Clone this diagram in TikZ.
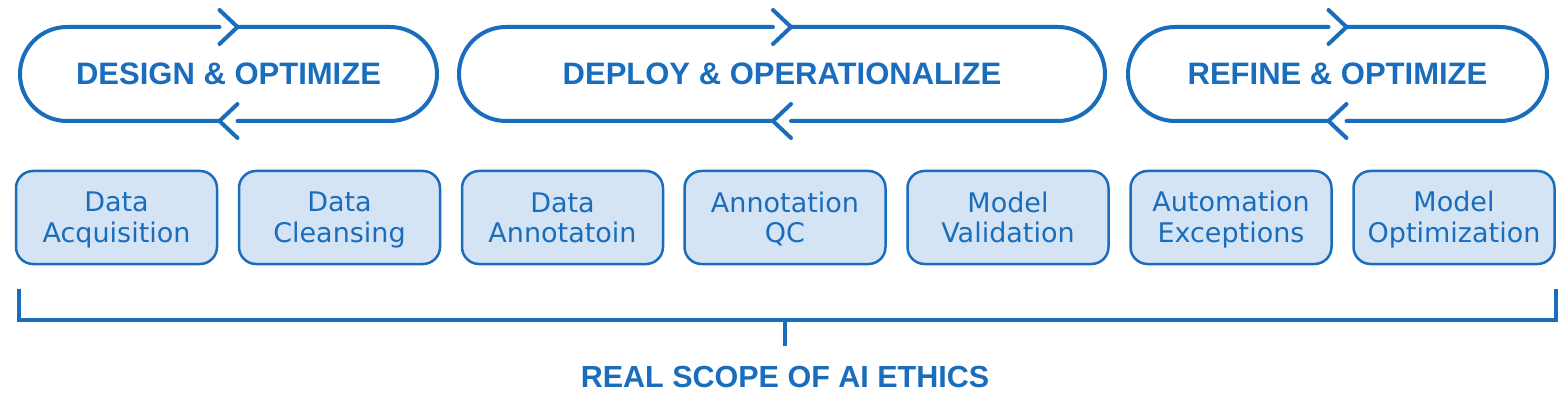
\documentclass[tikz,border=0pt]{standalone}
\usepackage{fontspec}
\setmainfont{DejaVu Sans}
\newfontfamily\headfont{Liberation Sans}
\definecolor{ethicblue}{HTML}{1A6DBD}
\definecolor{stagefill}{HTML}{D4E4F4}
\newcommand\lnstrut{\rule[-5pt]{0pt}{30pt}}
\begin{document}
\begin{tikzpicture}[x=1pt,y=1pt,
  phase/.style={minimum width=#1,minimum height=94pt,inner sep=0pt,outer sep=0pt,
    text=ethicblue,font=\headfont\bfseries\fontsize{31}{36}\selectfont},
  loopline/.style={draw=ethicblue,line width=4pt,line cap=round,line join=round},
  stage/.style={draw=ethicblue,fill=stagefill,line width=2.5pt,rounded corners=17pt,
    minimum width=201pt,minimum height=93pt,inner sep=0pt,align=center,
    text=ethicblue,font=\fontsize{27}{30.5}\selectfont},
  scopeline/.style={draw=ethicblue,line width=4pt},
  scopetext/.style={inner xsep=0pt,inner ysep=20pt,text=ethicblue,
    font=\headfont\bfseries\fontsize{30.5}{36}\selectfont}]
\useasboundingbox (0,0) rectangle (1567,-401);
\node [phase=417pt] (design) at (228.5,-74) {DESIGN \& OPTIMIZE};
\node [phase=646pt] (deploy) at (782,-74) {DEPLOY \& OPERATIONALIZE};
\node [phase=419pt] (refine) at (1337.5,-74) {REFINE \& OPTIMIZE};
\draw [loopline] ([xshift=9pt]design.north) -- ([xshift=-47pt]design.north east) arc [start angle=90,end angle=-90,radius=47pt] -- ([xshift=9pt]design.south);
\draw [loopline] ([xshift=-9pt]design.south) -- ([xshift=47pt]design.south west) arc [start angle=270,end angle=90,radius=47pt] -- ([xshift=-9pt]design.north);
\draw [loopline] ([shift={(-9pt,17pt)}]design.north) -- ([xshift=9pt]design.north) -- ([shift={(-9pt,-17pt)}]design.north);
\draw [loopline] ([shift={(9pt,17pt)}]design.south) -- ([xshift=-9pt]design.south) -- ([shift={(9pt,-17pt)}]design.south);
\draw [loopline] ([xshift=9pt]deploy.north) -- ([xshift=-47pt]deploy.north east) arc [start angle=90,end angle=-90,radius=47pt] -- ([xshift=9pt]deploy.south);
\draw [loopline] ([xshift=-9pt]deploy.south) -- ([xshift=47pt]deploy.south west) arc [start angle=270,end angle=90,radius=47pt] -- ([xshift=-9pt]deploy.north);
\draw [loopline] ([shift={(-9pt,17pt)}]deploy.north) -- ([xshift=9pt]deploy.north) -- ([shift={(-9pt,-17pt)}]deploy.north);
\draw [loopline] ([shift={(9pt,17pt)}]deploy.south) -- ([xshift=-9pt]deploy.south) -- ([shift={(9pt,-17pt)}]deploy.south);
\draw [loopline] ([xshift=9pt]refine.north) -- ([xshift=-47pt]refine.north east) arc [start angle=90,end angle=-90,radius=47pt] -- ([xshift=9pt]refine.south);
\draw [loopline] ([xshift=-9pt]refine.south) -- ([xshift=47pt]refine.south west) arc [start angle=270,end angle=90,radius=47pt] -- ([xshift=-9pt]refine.north);
\draw [loopline] ([shift={(-9pt,17pt)}]refine.north) -- ([xshift=9pt]refine.north) -- ([shift={(-9pt,-17pt)}]refine.north);
\draw [loopline] ([shift={(9pt,17pt)}]refine.south) -- ([xshift=-9pt]refine.south) -- ([shift={(9pt,-17pt)}]refine.south);
\node [stage] (acquisition) at (116.5,-217.5) {\lnstrut Data\\\lnstrut Acquisition};
\node [stage] (cleansing) at (339.5,-217.5) {\lnstrut Data\\\lnstrut Cleansing};
\node [stage] (annotation) at (562.5,-217.5) {\lnstrut Data\\\lnstrut Annotatoin};
\node [stage] (qc) at (785,-217.5) {\lnstrut Annotation\\\lnstrut QC};
\node [stage] (validation) at (1008,-217.5) {\lnstrut Model\\\lnstrut Validation};
\node [stage] (exceptions) at (1231,-217.5) {\lnstrut Automation\\\lnstrut Exceptions};
\node [stage] (optimization) at (1454,-217.5) {\lnstrut Model\\\lnstrut Optimization};
\coordinate (bl) at (19,-289);
\coordinate (br) at (1555.5,-289);
\coordinate (bm) at (785,-319.5);
\node [scopetext,anchor=base] (scope) at (785,-387) {REAL SCOPE OF AI ETHICS};
\draw [scopeline] (bl) |- (bm) -| (br);
\draw [scopeline,line width=3.5pt] (bm) -- (scope.north);
\end{tikzpicture}
\end{document}
